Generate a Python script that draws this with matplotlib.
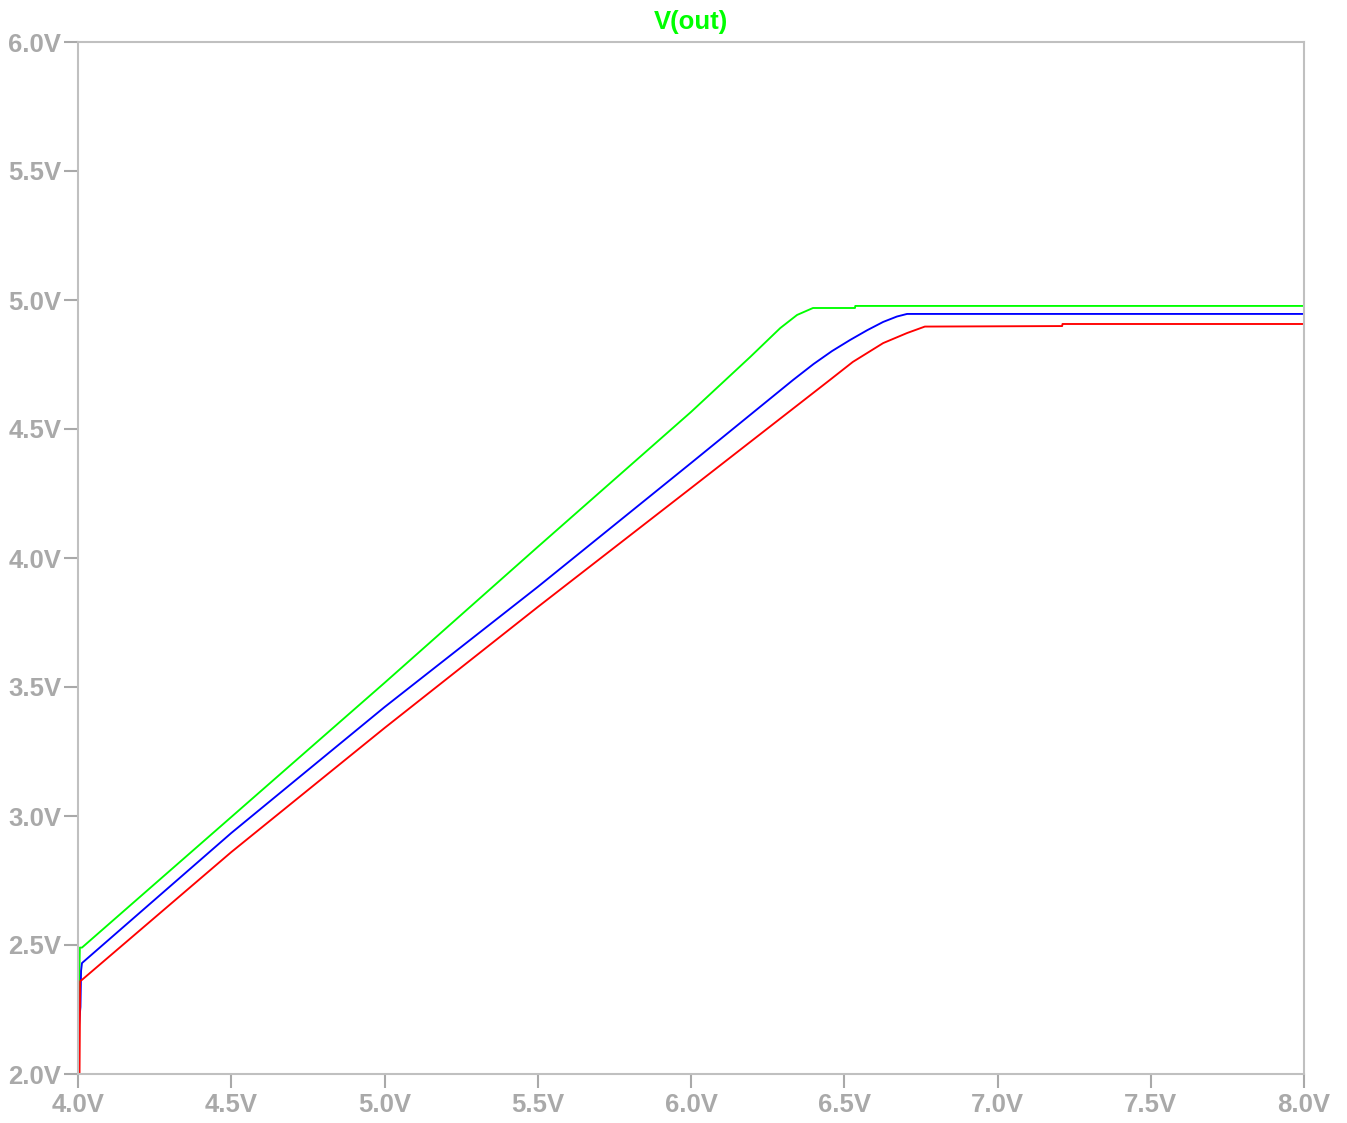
import matplotlib.pyplot as plt

# sweep voltage (x) and V(out) for three runs
green_x = [4.0, 4.0, 4.003, 4.006, 4.013, 4.5, 5.0, 5.5, 6.0, 6.193, 6.291, 6.346, 6.398, 6.535, 6.536, 8.0]
green_y = [2.09, 2.20, 2.30, 2.49, 2.49, 2.996, 3.516, 4.043, 4.566, 4.779, 4.891, 4.942, 4.969, 4.969, 4.977, 4.977]

blue_x = [4.003, 4.005, 4.008, 4.010, 4.013, 4.5, 5.0, 5.5, 6.0, 6.333, 6.40, 6.46, 6.519, 6.575, 6.627, 6.672, 6.705, 8.0]
blue_y = [2.18, 2.22, 2.26, 2.40, 2.43, 2.934, 3.422, 3.888, 4.368, 4.690, 4.752, 4.802, 4.845, 4.883, 4.915, 4.936, 4.946, 4.946]

red_x = [4.005, 4.007, 4.013, 4.5, 5.0, 5.5, 6.0, 6.453, 6.528, 6.627, 6.705, 6.763, 7.211, 7.212, 8.0]
red_y = [2.0, 2.36, 2.365, 2.860, 3.341, 3.810, 4.271, 4.690, 4.760, 4.833, 4.872, 4.897, 4.899, 4.907, 4.907]

xticks = [4.0, 4.5, 5.0, 5.5, 6.0, 6.5, 7.0, 7.5, 8.0]
yticks = [2.0, 2.5, 3.0, 3.5, 4.0, 4.5, 5.0, 5.5, 6.0]

plt.rcParams['font.family'] = ['Liberation Sans', 'DejaVu Sans']
gray = '#a9a9a9'

fig = plt.figure(figsize=(13.47, 11.23), dpi=100)
ax = fig.add_axes([78 / 1347, 1 - 1074 / 1123, (1304 - 78) / 1347, (1074 - 42) / 1123])

ax.plot(green_x, green_y, color='#00ff00', lw=1.35)
ax.plot(blue_x, blue_y, color='#0000ff', lw=1.35)
ax.plot(red_x, red_y, color='#ff0000', lw=1.35)

ax.set_xlim(4.0, 8.0)
ax.set_ylim(2.0, 6.0)
ax.set_xticks(xticks)
ax.set_yticks(yticks)
ax.set_xticklabels(['%.1fV' % v for v in xticks])
ax.set_yticklabels(['%.1fV' % v for v in yticks])
ax.tick_params(axis='both', colors=gray, length=10, width=1.5, labelsize=18.5)
ax.tick_params(axis='x', pad=4)
ax.tick_params(axis='y', pad=2)
for lab in ax.get_xticklabels() + ax.get_yticklabels():
    lab.set_fontweight('bold')
    lab.set_color(gray)
for sp in ax.spines.values():
    sp.set_color('#c0c0c0')
    sp.set_linewidth(1.5)

ax.set_title('V(out)', color='#00ff00', fontsize=18.5, fontweight='bold', pad=9)

fig.savefig('out.png', dpi=100)
